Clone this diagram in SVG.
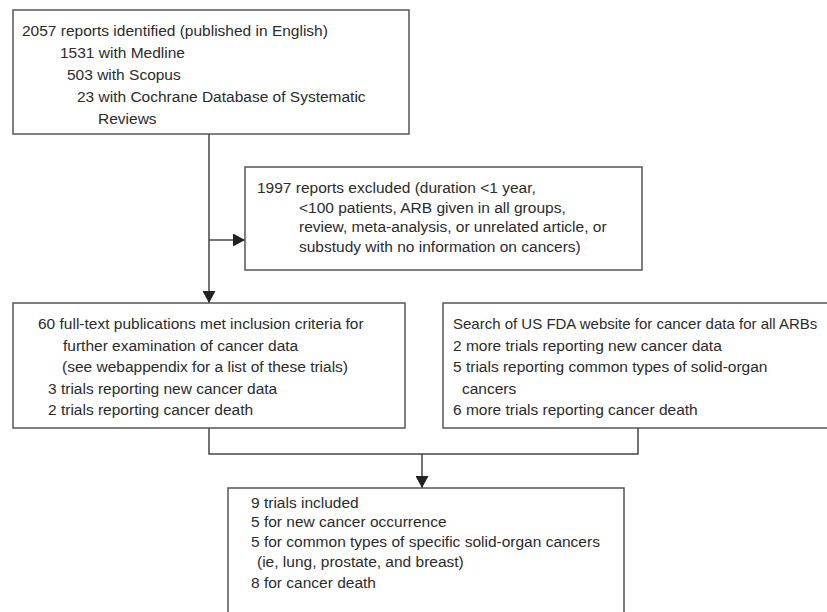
<svg xmlns="http://www.w3.org/2000/svg" width="827" height="612" viewBox="0 0 827 612">
<defs>
<style>
.box{fill:#fff;stroke:#555;stroke-width:1.5}
.t{font-family:"Liberation Sans",Arial,sans-serif;font-size:15.5px;fill:#2b2b2b}
.c{fill:none;stroke:#444;stroke-width:1.5}
</style>
<marker id="ah" markerUnits="userSpaceOnUse" markerWidth="13" markerHeight="13" refX="12" refY="6.5" orient="auto">
<path d="M0,0 L12,6.5 L0,13 Z" fill="#222"/>
</marker>
</defs>
<rect width="827" height="612" fill="#fff"/>
<g id="connectors">
<line class="c" x1="209" y1="134" x2="209" y2="303" marker-end="url(#ah)"/>
<line class="c" x1="209" y1="240" x2="245" y2="240" marker-end="url(#ah)"/>
<polyline class="c" points="209,428 209,454 638,454 638,428"/>
<line class="c" x1="422" y1="454" x2="422" y2="488" marker-end="url(#ah)"/>
</g>
<g id="identified">
<rect class="box" x="13" y="10" width="396" height="124"/>
<text class="t" x="22" y="36">2057 reports identified (published in English)</text>
<text class="t" x="60" y="58">1531 with Medline</text>
<text class="t" x="67" y="80">503 with Scopus</text>
<text class="t" x="77" y="102">23 with Cochrane Database of Systematic</text>
<text class="t" x="98" y="124">Reviews</text>
</g>
<g id="excluded">
<rect class="box" x="245" y="167" width="397" height="103"/>
<text class="t" x="257" y="193">1997 reports excluded (duration &lt;1 year,</text>
<text class="t" x="299" y="213">&lt;100 patients, ARB given in all groups,</text>
<text class="t" x="299" y="232">review, meta-analysis, or unrelated article, or</text>
<text class="t" x="299" y="252">substudy with no information on cancers)</text>
</g>
<g id="fulltext">
<rect class="box" x="13" y="303" width="392" height="125"/>
<text class="t" x="38" y="329">60 full-text publications met inclusion criteria for</text>
<text class="t" x="63" y="351">further examination of cancer data</text>
<text class="t" x="62" y="372">(see webappendix for a list of these trials)</text>
<text class="t" x="48" y="394">3 trials reporting new cancer data</text>
<text class="t" x="48" y="415">2 trials reporting cancer death</text>
</g>
<g id="fda">
<rect class="box" x="443" y="303" width="400" height="125"/>
<text class="t" x="453" y="329" style="font-size:15px">Search of US FDA website for cancer data for all ARBs</text>
<text class="t" x="453" y="351">2 more trials reporting new cancer data</text>
<text class="t" x="453" y="372">5 trials reporting common types of solid-organ</text>
<text class="t" x="462" y="394">cancers</text>
<text class="t" x="453" y="415">6 more trials reporting cancer death</text>
</g>
<g id="included">
<rect class="box" x="228" y="488" width="396" height="135"/>
<text class="t" x="251" y="508">9 trials included</text>
<text class="t" x="251" y="527">5 for new cancer occurrence</text>
<text class="t" x="251" y="547">5 for common types of specific solid-organ cancers</text>
<text class="t" x="257" y="567">(ie, lung, prostate, and breast)</text>
<text class="t" x="251" y="588">8 for cancer death</text>
</g>
</svg>
